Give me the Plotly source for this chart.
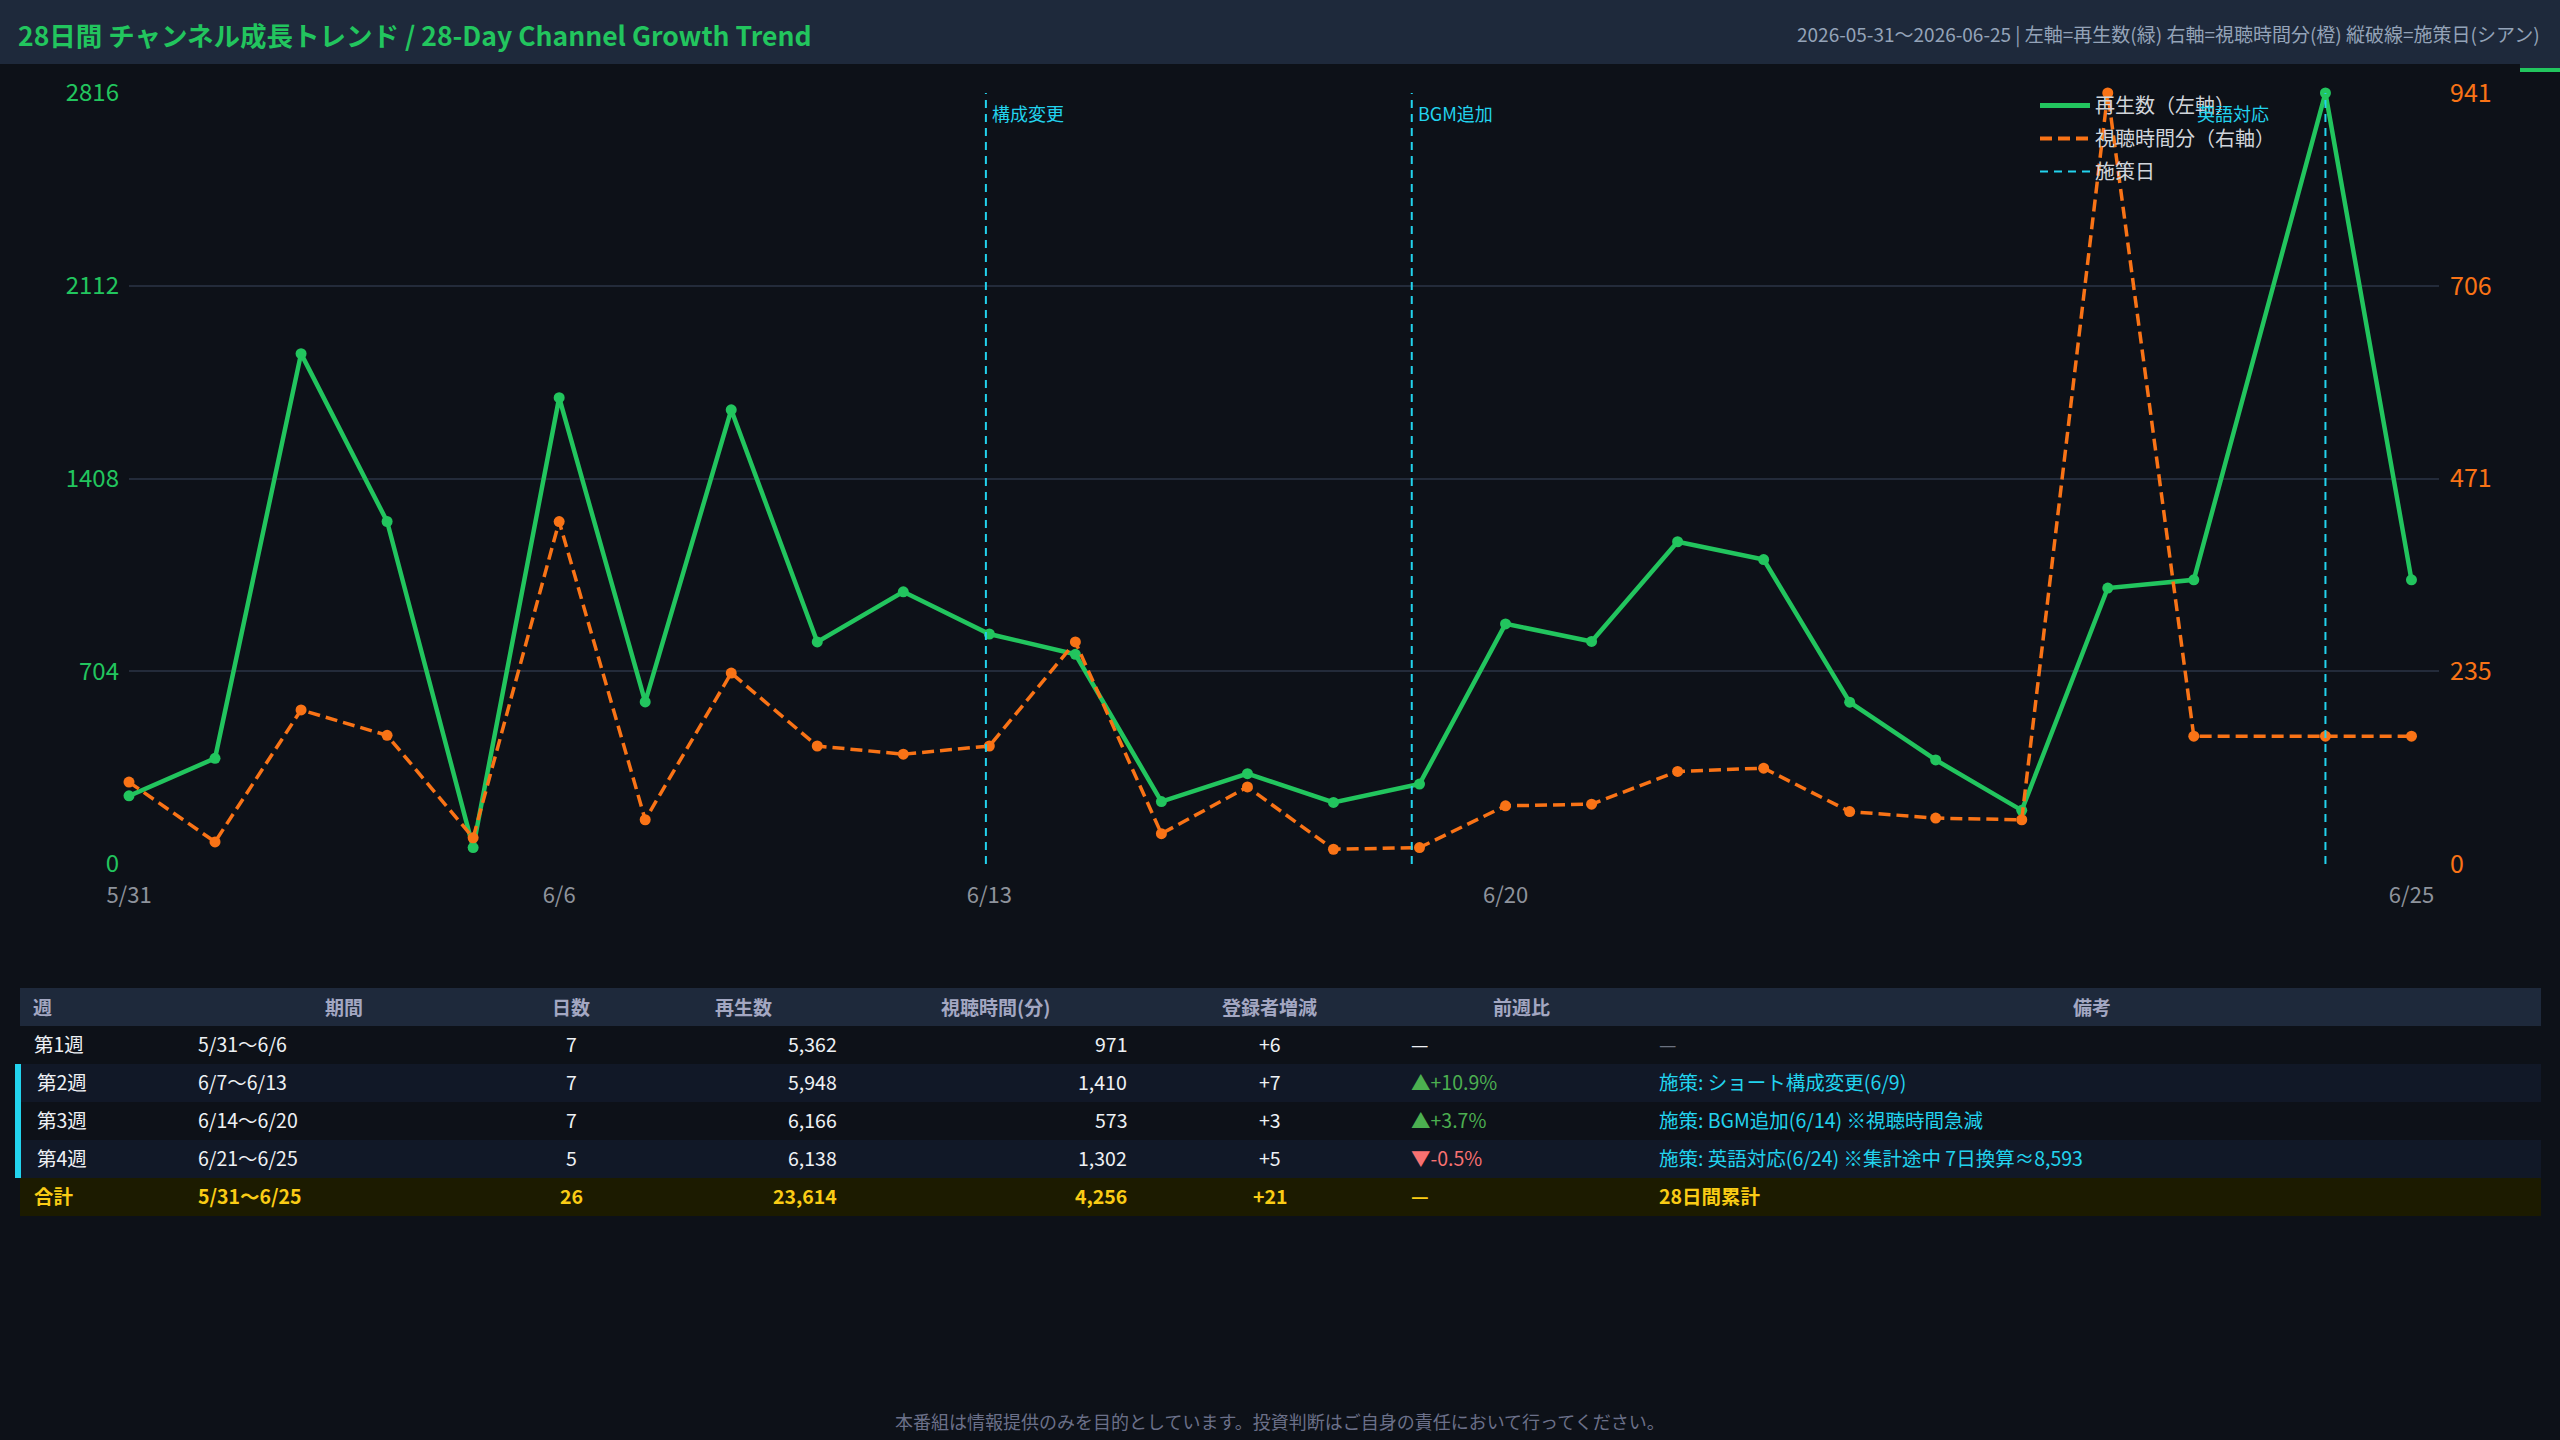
import plotly.graph_objects as go

W, H = 2560, 1440

# ---------------- data ----------------
x_pos = list(range(25)) + [25.53, 26.53]          # plotted position of each daily point
views = [249, 386, 1864, 1251, 60, 1703, 592, 1659, 811, 994, 840, 766, 228, 330,
         225, 292, 877, 813, 1177, 1112, 591, 380, 196, 1008, 1038, 2816, 1038]
watch = [100, 27, 188, 157, 32, 418, 54, 233, 144, 134, 144, 271, 37, 94,
         18, 20, 71, 73, 113, 117, 64, 56, 54, 941, 156, 156, 156]
tick_pos = [0, 5, 10, 16, 26.53]
tick_labels = ["5/31", "6/6", "6/13", "6/20", "6/25"]
policy_pos = [9.96, 14.91, 25.53]
policy_labels = ["構成変更", "BGM追加", "英語対応"]

table_header = ["週", "期間", "日数", "再生数", "視聴時間(分)", "登録者増減", "前週比", "備考"]
weeks = ["第1週", "第2週", "第3週", "第4週"]
periods = ["5/31〜6/6", "6/7〜6/13", "6/14〜6/20", "6/21〜6/25"]
days = [7, 7, 7, 5]
week_views = [5362, 5948, 6166, 6138]
week_watch = [971, 1410, 573, 1302]
week_subs = [6, 7, 3, 5]
wow = [None, 10.9, 3.7, -0.5]
notes = ["—", "施策: ショート構成変更(6/9)", "施策: BGM追加(6/14) ※視聴時間急減",
         "施策: 英語対応(6/24) ※集計途中 7日換算≈8,593"]
total_label = "合計"
total_period = "5/31〜6/25"
total_note = "28日間累計"

# ---------------- style ----------------
BG = "#0d1118"
BAR = "#1e293b"
GREEN = "#22c55e"
ORANGE = "#f97316"
CYAN = "#22d3ee"
GRID = "#232b3a"
FONT = "Noto Sans CJK JP, Noto Sans, sans-serif"


def px(x):
    return x / W


def py(y):
    return 1 - y / H


fig = go.Figure()

fig.add_trace(go.Scatter(x=x_pos, y=views, mode="lines+markers", name="再生数（左軸）",
                         line=dict(color=GREEN, width=4.5), marker=dict(size=11, color=GREEN),
                         showlegend=False, cliponaxis=False, yaxis="y"))
fig.add_trace(go.Scatter(x=x_pos, y=watch, mode="lines+markers", name="視聴時間分（右軸）",
                         line=dict(color=ORANGE, width=3.5, dash="12px,6px"),
                         marker=dict(size=11, color=ORANGE),
                         showlegend=False, cliponaxis=False, yaxis="y2"))

# legend-only entries
fig.add_trace(go.Scatter(x=[None], y=[None], mode="lines", name="再生数（左軸）",
                         line=dict(color=GREEN, width=5), legendgroup="a"))
fig.add_trace(go.Scatter(x=[None], y=[None], mode="lines", name="視聴時間分（右軸）",
                         line=dict(color=ORANGE, width=4, dash="12px,6px"), legendgroup="b"))
fig.add_trace(go.Scatter(x=[None], y=[None], mode="lines", name="施策日",
                         line=dict(color=CYAN, width=2, dash="8px,6px"), legendgroup="c"))

shapes = []
annotations = []

# policy lines
for p, lab in zip(policy_pos, policy_labels):
    shapes.append(dict(type="line", xref="x", yref="y domain", x0=p, x1=p, y0=0, y1=1,
                       line=dict(color=CYAN, width=2, dash="8px,6px")))
    if lab == "英語対応":
        annotations.append(dict(x=p, y=py(113), xref="x", yref="paper", text=lab,
                                showarrow=False, xanchor="right", xshift=-54, yanchor="middle",
                                font=dict(size=18, color=CYAN)))
    else:
        annotations.append(dict(x=p, y=py(113), xref="x", yref="paper", text=lab,
                                showarrow=False, xanchor="left", xshift=4, yanchor="middle",
                                font=dict(size=18, color=CYAN)))

# title bar
shapes.append(dict(type="rect", xref="paper", yref="paper", x0=0, x1=1, y0=py(64), y1=1,
                   fillcolor=BAR, line_width=0, layer="below"))
shapes.append(dict(type="rect", xref="paper", yref="paper", x0=px(2520), x1=1, y0=py(68), y1=py(63),
                   fillcolor=BAR, line_width=0, layer="below"))
shapes.append(dict(type="rect", xref="paper", yref="paper", x0=px(2520), x1=1, y0=py(72), y1=py(68),
                   fillcolor=GREEN, line_width=0, layer="below"))
annotations.append(dict(x=px(16), y=py(34), xref="paper", yref="paper",
                        text="<b>28日間 チャンネル成長トレンド / 28-Day Channel Growth Trend</b>",
                        showarrow=False, xanchor="left", yanchor="middle",
                        font=dict(size=26.5, color=GREEN)))
annotations.append(dict(x=px(2542), y=py(34), xref="paper", yref="paper",
                        text="2026-05-31〜2026-06-25 | 左軸=再生数(緑) 右軸=視聴時間分(橙) 縦破線=施策日(シアン)",
                        showarrow=False, xanchor="right", yanchor="middle",
                        font=dict(size=19, color="#94a3b8")))

# ---------------- table ----------------
TL, TR = 20, 2541
row_top = [1026, 1064, 1102, 1140, 1178]
row_h = 38
hdr_top, hdr_bot = 988, 1026
shapes.append(dict(type="rect", xref="paper", yref="paper", x0=px(TL), x1=px(TR),
                   y0=py(hdr_bot), y1=py(hdr_top), fillcolor=BAR, line_width=0, layer="below"))
row_bgs = ["#0d1118", "#111827", "#0d1118", "#111827", "#1c1b00"]
for i, t in enumerate(row_top):
    shapes.append(dict(type="rect", xref="paper", yref="paper", x0=px(TL), x1=px(TR),
                       y0=py(t + row_h), y1=py(t), fillcolor=row_bgs[i], line_width=0, layer="below"))
# cyan accent for policy weeks
shapes.append(dict(type="rect", xref="paper", yref="paper", x0=px(15), x1=px(21),
                   y0=py(row_top[4]), y1=py(row_top[1]), fillcolor=CYAN, line_width=0, layer="below"))

hdr_pos = [(31, "left"), (344, "center"), (571, "center"), (743, "center"), (995, "center"),
           (1269, "center"), (1521, "center"), (2092, "center")]
for txt, (x, anc) in zip(table_header, hdr_pos):
    annotations.append(dict(x=px(x), y=py((hdr_top + hdr_bot) / 2 - 1), xref="paper", yref="paper",
                            text=f"<b>{txt}</b>", showarrow=False, xanchor=anc, yanchor="middle",
                            font=dict(size=19, color="#a3a7c2")))

WHITE = "#eef1f5"
CELL = 19.5


def cell(x, yc, txt, anc, color, bold=False, size=CELL):
    t = f"<b>{txt}</b>" if bold else txt
    annotations.append(dict(x=px(x), y=py(yc), xref="paper", yref="paper", text=t,
                            showarrow=False, xanchor=anc, yanchor="middle",
                            font=dict(size=size, color=color)))


for i in range(4):
    yc = row_top[i] + row_h / 2 - 2
    cell(32 if i == 0 else 35, yc, weeks[i], "left", WHITE)
    cell(196, yc, periods[i], "left", WHITE)
    cell(571, yc, str(days[i]), "center", WHITE)
    cell(839, yc, f"{week_views[i]:,}", "right", WHITE)
    cell(1129, yc, f"{week_watch[i]:,}", "right", WHITE)
    cell(1270, yc, f"+{week_subs[i]}", "center", WHITE)
    if wow[i] is None:
        cell(1409, yc, "—", "left", WHITE)
    elif wow[i] >= 0:
        cell(1409, yc, f"▲+{wow[i]:.1f}%", "left", "#4caf50")
    else:
        cell(1409, yc, f"▼{wow[i]:.1f}%", "left", "#f87171")
    cell(1657, yc, notes[i], "left", "#6b7280" if i == 0 else CYAN)

YEL = "#facc15"
yc = row_top[4] + row_h / 2 - 2
cell(32, yc, total_label, "left", YEL, True)
cell(196, yc, total_period, "left", YEL, True)
cell(571, yc, str(sum(days)), "center", YEL, True)
cell(839, yc, f"{sum(week_views):,}", "right", YEL, True)
cell(1129, yc, f"{sum(week_watch):,}", "right", YEL, True)
cell(1270, yc, f"+{sum(week_subs)}", "center", YEL, True)
cell(1409, yc, "—", "left", YEL, True)
cell(1657, yc, total_note, "left", YEL, True)

# footer
annotations.append(dict(x=0.5, y=py(1421), xref="paper", yref="paper",
                        text="本番組は情報提供のみを目的としています。投資判断はご自身の責任において行ってください。",
                        showarrow=False, xanchor="center", yanchor="middle",
                        font=dict(size=18, color="#6b7089")))

fig.update_layout(
    template="none",
    width=W, height=H, autosize=False,
    margin=dict(l=0, r=0, t=0, b=0, pad=0, autoexpand=False),
    paper_bgcolor=BG, plot_bgcolor=BG,
    font=dict(family=FONT, color="#d1d5db"),
    xaxis=dict(domain=[px(129), px(2439)], range=[0, 26.85], tickmode="array",
               tickvals=tick_pos, ticktext=tick_labels, showgrid=False, zeroline=False,
               showline=False, ticks="", ticklabelstandoff=16, automargin=False,
               tickfont=dict(size=22, color="#8e939c")),
    yaxis=dict(domain=[py(864), py(93)], range=[0, 2816], tickmode="array",
               tickvals=[0, 704, 1408, 2112, 2816], ticktext=["0", "704", "1408", "2112", "2816"],
               showgrid=True, gridcolor=GRID, gridwidth=2, zeroline=False, showline=False,
               ticks="", ticklabelstandoff=9, automargin=False,
               tickfont=dict(size=24, color=GREEN)),
    yaxis2=dict(overlaying="y", side="right", range=[0, 941], tickmode="array",
                tickvals=[0, 235.25, 470.5, 705.75, 941], ticktext=["0", "235", "471", "706", "941"],
                showgrid=False, zeroline=False, showline=False, ticks="", ticklabelstandoff=10,
                automargin=False, tickfont=dict(size=25, color=ORANGE)),
    legend=dict(x=px(2035), y=py(86), xanchor="left", yanchor="top",
                bgcolor="rgba(0,0,0,0)", borderwidth=0, font=dict(size=20, color="#d1d5db"),
                tracegroupgap=4, itemwidth=50),
    shapes=shapes,
    annotations=annotations,
)

fig.write_html("out.html")
